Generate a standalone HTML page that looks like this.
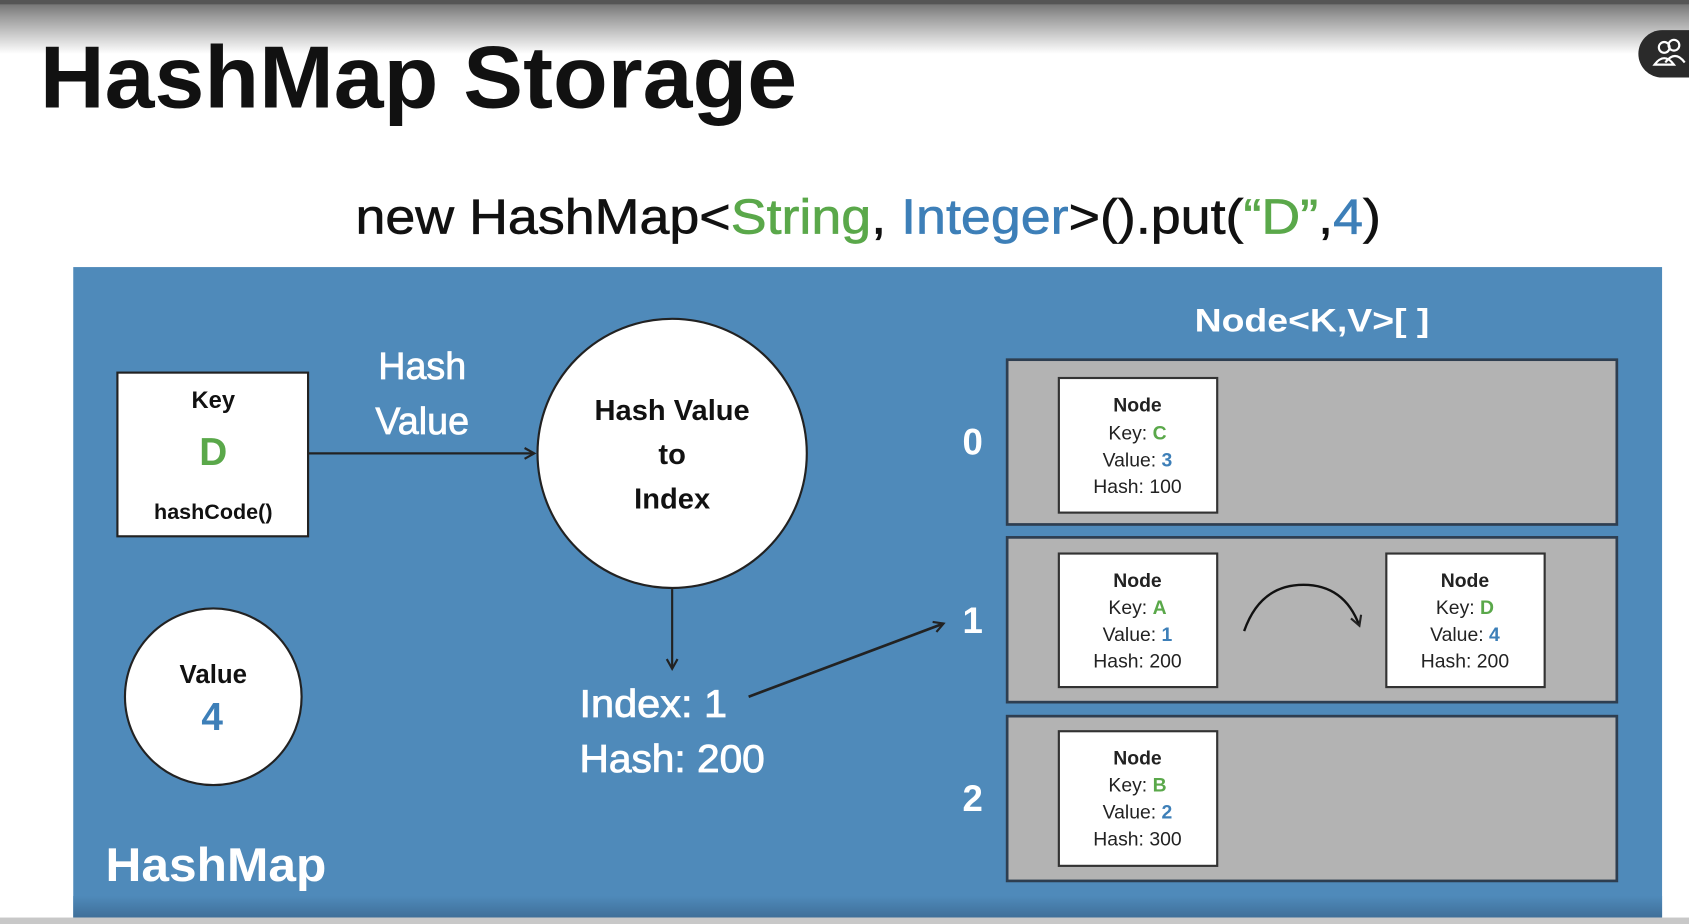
<!DOCTYPE html>
<html><head><meta charset="utf-8"><style>
html,body{margin:0;padding:0;background:#fff;overflow:hidden}
svg{display:block}
text{font-family:"Liberation Sans",sans-serif}
</style></head><body>
<svg width="1689" height="924" viewBox="0 0 1568 858" preserveAspectRatio="none" xmlns="http://www.w3.org/2000/svg">
<defs>
<linearGradient id="tg" x1="0" y1="0" x2="0" y2="1">
<stop offset="0" stop-color="#6a6a6a"/><stop offset="0.3" stop-color="#9a9a9a"/><stop offset="1" stop-color="#ffffff"/>
</linearGradient>
<linearGradient id="bg" x1="0" y1="0" x2="0" y2="1">
<stop offset="0" stop-color="#4f8aba"/><stop offset="1" stop-color="#3f6f99"/>
</linearGradient>
<marker id="ah" markerWidth="12" markerHeight="12" refX="10" refY="6" orient="auto" markerUnits="userSpaceOnUse">
<path d="M1,1 L10,6 L1,11" fill="none" stroke="#222" stroke-width="2"/>
</marker>
</defs>
<rect x="0" y="0" width="1568" height="858" fill="#fff"/>
<rect x="0" y="0" width="1568" height="50" fill="url(#tg)"/>
<rect x="0" y="0" width="1568" height="4" fill="#555"/>
<path d="M1543,28 L1568,28 L1568,72 L1543,72 A22,22 0 0 1 1543,28 Z" fill="#2a2a2a"/>
<circle cx="1545" cy="44" r="5" fill="none" stroke="#fff" stroke-width="2"/>
<circle cx="1554" cy="42" r="5" fill="none" stroke="#fff" stroke-width="2"/>
<path d="M1536,60 Q1545,48 1554,60 Z M1546,58 Q1555,46 1564,58" fill="none" stroke="#fff" stroke-width="2"/>

<text x="37" y="100" font-size="82" font-weight="bold" fill="#111" textLength="703" lengthAdjust="spacingAndGlyphs">HashMap Storage</text>
<text x="330" y="217" font-size="46" fill="#111" stroke="#111" stroke-width="0.6" textLength="952" lengthAdjust="spacingAndGlyphs">new HashMap&lt;<tspan fill="#5aa84a" stroke="#5aa84a">String</tspan>, <tspan fill="#3d7fb8" stroke="#3d7fb8">Integer</tspan>&gt;().put(<tspan fill="#5aa84a" stroke="#5aa84a">“D”</tspan>,<tspan fill="#3d7fb8" stroke="#3d7fb8">4</tspan>)</text>

<rect x="68" y="248" width="1475" height="604" fill="#4f8aba"/>
<rect x="68" y="832" width="1475" height="20" fill="url(#bg)"/>
<rect x="0" y="852" width="1568" height="6" fill="#c8c8c8"/>

<rect x="109" y="346" width="177" height="152" fill="#fff" stroke="#222" stroke-width="2"/>
<text x="198" y="379" font-size="22" font-weight="bold" text-anchor="middle" fill="#111">Key</text>
<text x="198" y="432" font-size="36" font-weight="bold" text-anchor="middle" fill="#5aa84a">D</text>
<text x="198" y="482" font-size="20" font-weight="bold" text-anchor="middle" fill="#111">hashCode()</text>

<text x="392" y="352" font-size="35" text-anchor="middle" fill="#fff" stroke="#fff" stroke-width="0.7">Hash</text>
<text x="392" y="403" font-size="35" text-anchor="middle" fill="#fff" stroke="#fff" stroke-width="0.7">Value</text>
<line x1="286" y1="421" x2="496" y2="421" stroke="#222" stroke-width="2" marker-end="url(#ah)"/>

<circle cx="624" cy="421" r="125" fill="#fff" stroke="#222" stroke-width="2"/>
<text x="624" y="390" font-size="27" font-weight="bold" text-anchor="middle" fill="#111">Hash Value</text>
<text x="624" y="431" font-size="27" font-weight="bold" text-anchor="middle" fill="#111">to</text>
<text x="624" y="472" font-size="27" font-weight="bold" text-anchor="middle" fill="#111">Index</text>
<line x1="624" y1="547" x2="624" y2="621" stroke="#222" stroke-width="2" marker-end="url(#ah)"/>

<text x="538" y="666" font-size="36" fill="#fff" stroke="#fff" stroke-width="0.8" textLength="137" lengthAdjust="spacingAndGlyphs">Index: 1</text>
<text x="538" y="717" font-size="36" fill="#fff" stroke="#fff" stroke-width="0.8" textLength="172" lengthAdjust="spacingAndGlyphs">Hash: 200</text>
<line x1="695" y1="647" x2="876" y2="579" stroke="#222" stroke-width="2.5" marker-end="url(#ah)"/>

<circle cx="198" cy="647" r="82" fill="#fff" stroke="#222" stroke-width="2"/>
<text x="198" y="634" font-size="24" font-weight="bold" text-anchor="middle" fill="#111">Value</text>
<text x="197" y="678" font-size="36" font-weight="bold" text-anchor="middle" fill="#3d7fb8">4</text>

<text x="98" y="818" font-size="44" font-weight="bold" fill="#fff" textLength="205" lengthAdjust="spacingAndGlyphs">HashMap</text>
<text x="1218" y="308" font-size="30" font-weight="bold" text-anchor="middle" fill="#fff" textLength="218" lengthAdjust="spacingAndGlyphs">Node&lt;K,V&gt;[ ]</text>

<g stroke="#2e3e50" stroke-width="2.5" fill="#b3b3b3">
<rect x="935" y="334" width="566" height="153"/>
<rect x="935" y="499" width="566" height="153"/>
<rect x="935" y="665" width="566" height="153"/>
</g>
<g font-size="34" font-weight="bold" fill="#fff" text-anchor="middle">
<text x="903" y="422">0</text><text x="903" y="588">1</text><text x="903" y="753">2</text>
</g>

<g stroke="#333" stroke-width="2" fill="#fff">
<rect x="983" y="351" width="147" height="125"/>
<rect x="983" y="514" width="147" height="124"/>
<rect x="1287" y="514" width="147" height="124"/>
<rect x="983" y="679" width="147" height="125"/>
</g>
<g font-size="18" text-anchor="middle" fill="#222">
<text x="1056" y="382" font-weight="bold">Node</text>
<text x="1056" y="408">Key: <tspan fill="#5aa84a" font-weight="bold">C</tspan></text>
<text x="1056" y="433">Value: <tspan fill="#3d7fb8" font-weight="bold">3</tspan></text>
<text x="1056" y="458">Hash: 100</text>

<text x="1056" y="545" font-weight="bold">Node</text>
<text x="1056" y="570">Key: <tspan fill="#5aa84a" font-weight="bold">A</tspan></text>
<text x="1056" y="595">Value: <tspan fill="#3d7fb8" font-weight="bold">1</tspan></text>
<text x="1056" y="620">Hash: 200</text>

<text x="1360" y="545" font-weight="bold">Node</text>
<text x="1360" y="570">Key: <tspan fill="#5aa84a" font-weight="bold">D</tspan></text>
<text x="1360" y="595">Value: <tspan fill="#3d7fb8" font-weight="bold">4</tspan></text>
<text x="1360" y="620">Hash: 200</text>

<text x="1056" y="710" font-weight="bold">Node</text>
<text x="1056" y="735">Key: <tspan fill="#5aa84a" font-weight="bold">B</tspan></text>
<text x="1056" y="760">Value: <tspan fill="#3d7fb8" font-weight="bold">2</tspan></text>
<text x="1056" y="785">Hash: 300</text>
</g>
<path d="M1155,586 Q1170,543 1210,543 Q1248,543 1262,581" fill="none" stroke="#111" stroke-width="2.2" marker-end="url(#ah)"/>
</svg>
</body></html>
